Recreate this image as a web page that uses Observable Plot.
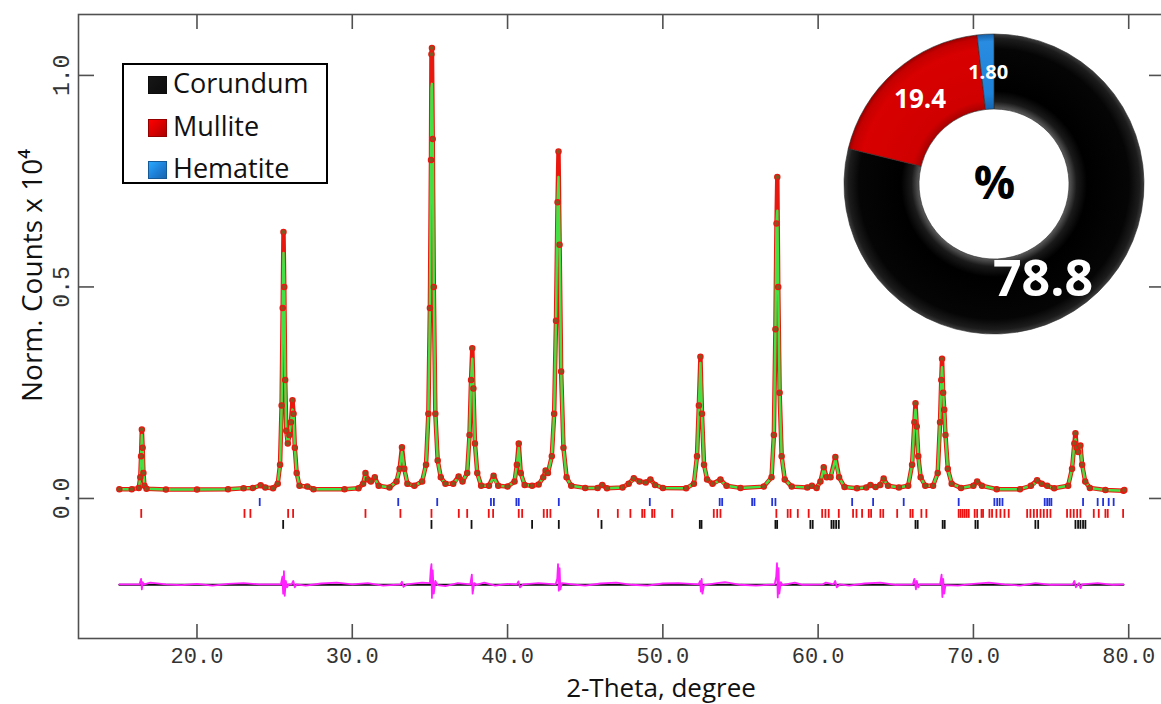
<!DOCTYPE html>
<html><head><meta charset="utf-8">
<script src="https://cdn.jsdelivr.net/npm/d3@7"></script>
<script src="https://cdn.jsdelivr.net/npm/@observablehq/plot@0.6"></script>
<style>
html,body{margin:0;padding:0;background:#fff;overflow:hidden;}
#wrap{position:relative;width:1161px;height:704px;overflow:hidden;background:#fff;}
#main{position:absolute;left:0;top:0;width:1175px;}
#donut{position:absolute;left:844px;top:34px;width:300px;}
#legend{position:absolute;left:122px;top:63px;width:206px;height:121px;border:2px solid #000;box-sizing:border-box;background:#fff;font-family:"Open Sans",sans-serif;font-size:27px;color:#111;}
#legend .row{position:absolute;left:24px;height:40px;line-height:40px;white-space:nowrap;}
#legend .sw{display:inline-block;width:19px;height:18px;margin-right:6px;vertical-align:-1px;box-sizing:border-box;}
</style>
</head><body>
<div id="wrap"><div id="main"></div><div id="donut"></div><div id="legend"></div></div>
<script>
// ---------- data ----------
// [2-theta, I_obs, I_calc] (normalized counts x 1e4)
const pattern = [
[15.0,0.022,0.022],[15.8,0.022,0.022],[16.25,0.025,0.025],[16.35,0.05,0.05],[16.40,0.10,0.10],[16.45,0.163,0.15],[16.50,0.12,0.12],[16.55,0.06,0.06],[16.62,0.03,0.03],[16.75,0.023,0.023],
[18.0,0.021,0.021],[20.0,0.021,0.021],[22.0,0.022,0.022],[23.0,0.024,0.024],[23.6,0.025,0.025],[24.1,0.031,0.031],[24.4,0.026,0.026],[24.9,0.024,0.024],
[25.2,0.035,0.035],[25.35,0.08,0.08],[25.45,0.22,0.22],[25.52,0.45,0.45],[25.57,0.63,0.58],[25.62,0.50,0.50],[25.68,0.28,0.28],[25.75,0.16,0.16],[25.85,0.13,0.13],[25.95,0.15,0.15],[26.05,0.18,0.18],[26.15,0.232,0.21],[26.22,0.20,0.20],[26.30,0.12,0.12],[26.42,0.06,0.06],[26.6,0.03,0.03],[27.1,0.028,0.028],[27.5,0.022,0.022],
[29.5,0.022,0.022],[30.4,0.024,0.024],[30.7,0.035,0.035],[30.85,0.06,0.055],[31.0,0.045,0.045],[31.2,0.04,0.04],[31.45,0.05,0.048],[31.7,0.03,0.03],[32.4,0.026,0.026],[32.85,0.04,0.04],[33.05,0.07,0.07],[33.2,0.121,0.11],[33.35,0.07,0.07],[33.55,0.035,0.035],
[34.0,0.03,0.03],[34.5,0.04,0.04],[34.75,0.08,0.08],[34.9,0.2,0.2],[35.0,0.45,0.45],[35.07,0.8,0.8],[35.1,1.05,0.97],[35.13,1.065,0.98],[35.18,0.85,0.85],[35.25,0.5,0.5],[35.35,0.2,0.2],[35.5,0.09,0.09],[35.7,0.05,0.05],[36.0,0.035,0.035],[36.5,0.035,0.035],[36.85,0.052,0.05],[37.1,0.04,0.04],
[37.4,0.06,0.06],[37.55,0.15,0.15],[37.65,0.28,0.28],[37.73,0.355,0.33],[37.8,0.26,0.26],[37.9,0.13,0.13],[38.05,0.06,0.06],[38.3,0.03,0.03],[38.8,0.03,0.03],[39.1,0.054,0.05],[39.4,0.03,0.03],
[40.0,0.028,0.028],[40.45,0.04,0.04],[40.6,0.08,0.08],[40.72,0.13,0.12],[40.85,0.06,0.06],[41.1,0.032,0.032],[41.58,0.03,0.03],[42.0,0.033,0.033],[42.3,0.05,0.05],[42.45,0.066,0.062],[42.6,0.06,0.06],
[42.85,0.1,0.1],[43.0,0.2,0.2],[43.12,0.42,0.42],[43.22,0.7,0.7],[43.28,0.82,0.76],[43.35,0.6,0.6],[43.45,0.3,0.3],[43.6,0.12,0.12],[43.8,0.05,0.05],[44.1,0.03,0.03],
[45.0,0.025,0.025],[45.8,0.025,0.025],[46.1,0.032,0.03],[46.4,0.024,0.024],[47.4,0.026,0.026],[47.8,0.035,0.035],[48.13,0.048,0.046],[48.5,0.04,0.04],[48.9,0.038,0.038],[49.2,0.045,0.043],[49.5,0.032,0.032],[50.0,0.025,0.025],
[51.5,0.024,0.024],[52.0,0.035,0.035],[52.2,0.1,0.1],[52.32,0.22,0.22],[52.42,0.335,0.32],[52.52,0.2,0.2],[52.65,0.08,0.08],[52.85,0.045,0.045],[53.2,0.035,0.035],[53.71,0.045,0.043],[54.1,0.03,0.03],[55.0,0.025,0.025],
[56.5,0.028,0.028],[57.0,0.05,0.05],[57.15,0.15,0.15],[57.25,0.4,0.4],[57.32,0.65,0.65],[57.37,0.76,0.68],[57.43,0.5,0.5],[57.52,0.25,0.25],[57.65,0.1,0.1],[57.85,0.045,0.045],[58.3,0.028,0.028],
[59.3,0.026,0.026],[59.6,0.03,0.03],[59.9,0.025,0.025],[60.15,0.04,0.04],[60.36,0.074,0.07],[60.55,0.05,0.05],[60.8,0.05,0.05],[61.11,0.098,0.092],[61.35,0.05,0.05],[61.7,0.027,0.027],
[62.5,0.024,0.024],[63.1,0.026,0.026],[63.37,0.032,0.032],[63.7,0.027,0.027],[64.0,0.032,0.032],[64.22,0.047,0.045],[64.5,0.03,0.03],[65.2,0.026,0.026],
[65.8,0.03,0.03],[66.05,0.08,0.08],[66.2,0.18,0.18],[66.27,0.225,0.21],[66.35,0.17,0.17],[66.45,0.1,0.1],[66.6,0.05,0.05],[66.9,0.03,0.03],
[67.4,0.03,0.03],[67.7,0.06,0.06],[67.85,0.18,0.18],[67.93,0.28,0.28],[67.98,0.33,0.31],[68.05,0.25,0.25],[68.12,0.21,0.21],[68.2,0.15,0.15],[68.35,0.07,0.07],[68.6,0.035,0.035],
[69.2,0.025,0.025],[70.0,0.03,0.03],[70.24,0.04,0.038],[70.55,0.03,0.03],[71.5,0.022,0.022],[73.0,0.022,0.022],[73.7,0.03,0.03],[74.1,0.043,0.041],[74.4,0.035,0.035],[74.75,0.03,0.03],[75.2,0.024,0.024],
[76.1,0.03,0.03],[76.35,0.07,0.07],[76.5,0.13,0.13],[76.57,0.154,0.14],[76.65,0.12,0.12],[76.75,0.11,0.11],[76.89,0.125,0.12],[77.0,0.08,0.08],[77.2,0.04,0.04],[77.5,0.025,0.025],[78.5,0.02,0.02],[79.66,0.018,0.018],[79.72,0.02,0.02]
];
// [2-theta, I_obs - I_calc] drawn with its offset
const difference = [
[15.0,-0.203],[16.3,-0.203],[16.4,-0.19],[16.45,-0.215],[16.5,-0.198],[16.6,-0.203],[17.0,-0.199],[18.0,-0.203],[19.0,-0.205],[20.0,-0.202],[21.0,-0.206],[22.0,-0.202],[23.0,-0.2],[24.0,-0.203],
[25.4,-0.203],[25.5,-0.185],[25.55,-0.225],[25.6,-0.172],[25.65,-0.23],[25.72,-0.195],[25.8,-0.21],[25.9,-0.203],[26.1,-0.203],[26.2,-0.195],[26.3,-0.21],[26.4,-0.203],
[27.0,-0.206],[28.0,-0.201],[29.0,-0.199],[30.0,-0.203],[31.0,-0.2],[32.0,-0.206],[33.1,-0.203],[33.2,-0.197],[33.3,-0.209],[33.5,-0.203],[34.5,-0.199],
[35.0,-0.2],[35.05,-0.17],[35.1,-0.155],[35.13,-0.235],[35.18,-0.17],[35.25,-0.225],[35.35,-0.195],[35.5,-0.205],[36.0,-0.207],[36.8,-0.2],[37.6,-0.203],
[37.7,-0.18],[37.75,-0.225],[37.85,-0.2],[38.0,-0.204],[38.5,-0.199],[39.2,-0.206],[40.0,-0.202],[40.6,-0.203],[40.7,-0.196],[40.8,-0.21],[41.0,-0.203],[42.0,-0.2],[43.1,-0.203],
[43.2,-0.19],[43.25,-0.155],[43.3,-0.218],[43.35,-0.165],[43.4,-0.215],[43.5,-0.2],[44.5,-0.204],[45.0,-0.206],[46.0,-0.201],[47.0,-0.199],[48.0,-0.204],[49.0,-0.206],[50.0,-0.201],[51.0,-0.2],[52.3,-0.203],
[52.4,-0.195],[52.45,-0.22],[52.5,-0.19],[52.55,-0.225],[52.65,-0.205],[53.5,-0.2],[54.0,-0.198],[55.0,-0.204],[56.0,-0.206],[57.2,-0.203],
[57.3,-0.185],[57.35,-0.153],[57.4,-0.234],[57.45,-0.165],[57.5,-0.225],[57.6,-0.198],[57.7,-0.205],[58.5,-0.199],[59.0,-0.204],[60.3,-0.203],[60.5,-0.199],[61.0,-0.203],[61.1,-0.195],[61.2,-0.21],[61.4,-0.203],
[62.0,-0.206],[63.0,-0.201],[64.0,-0.199],[65.0,-0.204],[66.1,-0.203],[66.2,-0.19],[66.3,-0.215],[66.35,-0.195],[66.45,-0.21],[66.55,-0.203],[67.85,-0.203],
[67.95,-0.18],[68.0,-0.233],[68.05,-0.19],[68.12,-0.225],[68.2,-0.205],[69.0,-0.206],[70.0,-0.202],[71.0,-0.199],[72.0,-0.203],[73.0,-0.206],[74.0,-0.2],[75.0,-0.204],[76.4,-0.203],
[76.5,-0.195],[76.6,-0.21],[76.8,-0.2],[76.9,-0.212],[77.0,-0.203],[78.0,-0.2],[79.0,-0.204],[79.66,-0.203]
];
const diffZero = [[15.0,-0.204],[79.66,-0.204]];
// Bragg reflection positions (2-theta)
const hematiteTicks = [24.04,32.96,35.47,38.93,39.12,40.57,40.72,43.30,49.16,53.66,53.82,55.75,55.90,57.04,57.25,62.19,63.54,65.51,69.05,71.35,71.53,71.69,71.87,74.59,74.75,74.89,75.02,77.06,78.00,78.35,78.71,79.03];
const mulliteTicks = [16.41,23.06,23.44,25.87,26.19,30.85,33.10,35.10,36.86,37.40,38.79,39.07,40.72,40.94,42.33,42.55,42.76,45.83,47.10,47.91,48.67,48.82,49.31,49.46,50.60,53.28,53.50,53.71,57.31,58.04,58.22,58.69,59.39,60.26,60.47,60.68,61.33,62.25,62.47,62.83,63.26,63.41,64.01,64.19,65.09,65.94,66.09,66.65,66.97,69.05,69.18,69.31,69.44,69.57,69.70,70.08,70.24,70.52,70.62,71.03,71.20,71.48,71.74,72.00,72.27,73.46,73.67,73.89,74.10,74.32,74.53,74.75,74.96,76.03,76.25,76.46,76.68,76.89,77.75,78.07,78.50,78.65,79.64];
const corundumTicks = [25.55,35.10,37.68,41.58,43.30,46.05,52.38,52.49,57.25,57.36,59.50,59.65,60.86,61.00,61.16,61.33,66.27,66.41,68.02,68.15,70.13,70.28,73.99,74.17,76.57,76.74,76.89,77.06,77.21];
const xTicks = [20,30,40,50,60,70,80];
const yTicks = [0,0.5,1.0];
const xLabel = "2-Theta, degree";
const yLabel = "Norm. Counts x 10\u2074";
// phase composition (%)
const phases = ["Corundum","Mullite","Hematite"];
const phasePct = [78.8,19.4,1.80];
const phaseText = ["78.8","19.4","1.80"];
const centerText = "%";

// ---------- main plot ----------
const W = 1175, H = 704, mL = 78, mR = 12, mT = 14, mB = 66;
const fw = W - mL - mR, fh = H - mT - mB;
const axisCol = "#505050";
const X = d => d[0];
const tickFont = "Liberation Mono";
const main = Plot.plot({
  width: W, height: H,
  marginLeft: mL, marginRight: mR, marginTop: mT, marginBottom: mB,
  x: {domain: [12.37, 82.24], axis: null},
  y: {domain: [-0.331, 1.144], axis: null},
  style: {background: "transparent", overflow: "visible", maxWidth: "none"},
  marks: [
    Plot.frame({stroke: axisCol, strokeWidth: 1.6}),
    Plot.tickX(xTicks, {x: d => d, insetTop: fh - 14, stroke: axisCol, strokeWidth: 1.6}),
    Plot.tickX(xTicks, {x: d => d, insetBottom: fh - 15, stroke: axisCol, strokeWidth: 1.6}),
    Plot.tickY(yTicks, {y: d => d, insetRight: fw - 16, stroke: axisCol, strokeWidth: 1.6}),
    Plot.tickY(yTicks, {y: d => d, insetLeft: fw - 14, stroke: axisCol, strokeWidth: 1.6}),
    Plot.text(xTicks, {x: d => d, text: d => d.toFixed(1), frameAnchor: "bottom", textAnchor: "middle", lineAnchor: "middle", dy: 17, fontSize: 22, fontFamily: tickFont, fill: "#333"}),
    Plot.text(yTicks, {y: d => d, text: d => d.toFixed(1), frameAnchor: "left", textAnchor: "middle", lineAnchor: "middle", dx: -17, rotate: -90, fontSize: 23, fontFamily: tickFont, fill: "#333"}),
    Plot.text([xLabel], {text: d => d, frameAnchor: "bottom", textAnchor: "middle", lineAnchor: "middle", dx: 40, dy: 50, fontSize: 26, fontFamily: "Open Sans", fill: "#111"}),
    Plot.text([yLabel], {text: d => d, frameAnchor: "left", textAnchor: "middle", lineAnchor: "middle", dx: -45, dy: -51, rotate: -90, fontSize: 28, fontFamily: "Open Sans", fill: "#111"}),
    // reflection markers
    Plot.ruleX(hematiteTicks, {x: d => d, y1: 0.0, y2: -0.019, stroke: "#2233dd", strokeWidth: 1.8}),
    Plot.ruleX(mulliteTicks, {x: d => d, y1: -0.026, y2: -0.047, stroke: "#ee1111", strokeWidth: 1.8}),
    Plot.ruleX(corundumTicks, {x: d => d, y1: -0.052, y2: -0.073, stroke: "#111", strokeWidth: 1.8}),
    // difference curve
    Plot.line(diffZero, {x: X, y: d => d[1], stroke: "#111", strokeWidth: 2}),
    Plot.line(difference, {x: X, y: d => d[1], stroke: "#ff22ff", strokeWidth: 1.8}),
    // observed band, calculated line, observed points
    Plot.line(pattern, {x: X, y: d => d[1], stroke: "#e8180e", strokeWidth: 4.5}),
    Plot.line(pattern, {x: X, y: d => d[2], stroke: "#44e044", strokeWidth: 2.5}),
    Plot.dot(pattern, {x: X, y: d => d[1], r: 2.6, fill: "#7d5a22", stroke: "#e61a10", strokeWidth: 1.3})
  ]
});
document.getElementById("main").appendChild(main);

// ---------- legend ----------
const legendColors = ["#111", "#d40000", "#1e7fd6"];
const leg = document.getElementById("legend");
phases.forEach((p, i) => {
  const row = document.createElement("div");
  row.className = "row";
  row.style.top = (i * 42.5 - 2) + "px";
  const sw = document.createElement("span");
  sw.className = "sw";
  sw.style.background = `linear-gradient(135deg, ${d3.color(legendColors[i]).brighter(0.8)} 0%, ${legendColors[i]} 55%, ${d3.color(legendColors[i]).darker(0.6)} 100%)`;
  sw.style.border = "1px solid " + d3.color(legendColors[i]).darker(1);
  row.appendChild(sw);
  row.appendChild(document.createTextNode(p));
  leg.appendChild(row);
});

// ---------- donut inset ----------
const slices = phases.map((p, i) => ({phase: p, pct: phasePct[i], label: phaseText[i]}));
const pieData = d3.pie().sort(null).value(d => d.pct)(slices);
const hole = 0.5;
const arcU = d3.arc().innerRadius(hole).outerRadius(1);
pieData.forEach(a => { const c = arcU.centroid(a); a.cx = c[0]; a.cy = -c[1]; });
const sliceFill = {Corundum: "url(#gBlack)", Mullite: "url(#gRed)", Hematite: "url(#gBlue)"};
function ring(index, scales) {
  const sx = scales && scales.x ? scales.x : d3.scaleLinear([-1, 1], [0, 300]);
  const sy = scales && scales.y ? scales.y : d3.scaleLinear([-1, 1], [300, 0]);
  const cx = sx(0), cy = sy(0), R = sx(1) - sx(0);
  const g = d3.create("svg:g");
  const defs = g.append("defs");
  const mk = (id, stops) => {
    const rg = defs.append("radialGradient").attr("id", id).attr("gradientUnits", "userSpaceOnUse")
      .attr("cx", 0).attr("cy", 0).attr("r", R);
    stops.forEach(([o, c]) => rg.append("stop").attr("offset", o).attr("stop-color", c));
  };
  mk("gBlack", [[0.5, "#5a5a5a"], [0.55, "#1a1a1a"], [0.62, "#000"], [0.9, "#050505"], [0.97, "#1c1c1c"], [1, "#3c3c3c"]]);
  mk("gRed", [[0.5, "#a80000"], [0.56, "#d00000"], [0.9, "#d80000"], [0.97, "#c40000"], [1, "#960000"]]);
  mk("gBlue", [[0.5, "#1565b0"], [0.6, "#1e82d8"], [0.95, "#2a8ce0"], [1, "#1560a8"]]);
  const arc = d3.arc().innerRadius(R * hole).outerRadius(R);
  g.selectAll("path").data(pieData).join("path")
    .attr("transform", `translate(${cx},${cy})`)
    .attr("d", arc)
    .attr("fill", d => sliceFill[d.data.phase])
    .attr("stroke", "#2a2a2a").attr("stroke-width", 0.6);
  return g.node();
}
const donut = Plot.plot({
  width: 300, height: 300, margin: 0,
  x: {domain: [-1, 1], axis: null},
  y: {domain: [-1, 1], axis: null},
  style: {background: "transparent", overflow: "visible", maxWidth: "none"},
  marks: [
    ring,
    Plot.text(pieData.filter(d => d.data.phase === "Mullite"), {x: "cx", y: "cy", text: d => d.data.label, fill: "#fff", fontSize: 26, fontWeight: "bold", fontFamily: "Open Sans"}),
    Plot.text(pieData.filter(d => d.data.phase === "Hematite"), {x: "cx", y: "cy", text: d => d.data.label, fill: "#fff", fontSize: 20, fontWeight: "bold", fontFamily: "Open Sans"}),
    Plot.text(pieData.filter(d => d.data.phase === "Corundum"), {x: "cx", y: "cy", text: d => d.data.label, dx: -21, dy: 7, fill: "#fff", fontSize: 50, fontWeight: "bold", fontFamily: "Open Sans"}),
    Plot.text([centerText], {x: () => 0, y: () => 0, text: d => d, fill: "#000", fontSize: 46, fontWeight: "bold", fontFamily: "Open Sans"})
  ]
});
document.getElementById("donut").appendChild(donut);
</script>
</body></html>
